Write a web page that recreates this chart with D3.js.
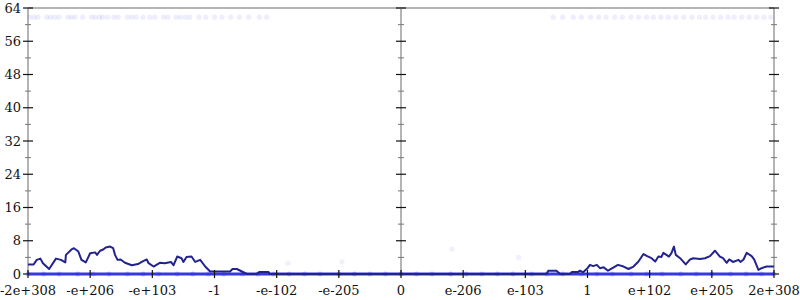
<!DOCTYPE html>
<html lang="en">
<head>
  <meta charset="UTF-8">
  <title>Distribution over doubles</title>
  <script src="https://d3js.org/d3.v7.min.js"></script>
  <style>
    body { margin: 0; background: #fff; }
    svg text { font-family: "DejaVu Serif", serif; font-size: 13px; fill: #111; }
    .frame { stroke: #b4b4b4; stroke-width: 2; fill: none; }
  </style>
</head>
<body>
  <svg width="800" height="300"></svg>
  <script>
    // x positions are in "tick units": -6 .. 6, one unit per labelled tick
    const xTickPos = [-6, -5, -4, -3, -2, -1, 0, 1, 2, 3, 4, 5, 6];
    const xTickLabels = ["-2e+308", "-e+206", "-e+103", "-1", "-e-102", "-e-205", "0",
                         "e-206", "e-103", "1", "e+102", "e+205", "2e+308"];
    const yMajor = [0, 8, 16, 24, 32, 40, 48, 56, 64];
    const yMinor = [4, 12, 20, 28, 36, 44, 52, 60];

    // the dark line
    const lineX = [-6.00, -5.91, -5.86, -5.80, -5.76, -5.66, -5.55, -5.47, -5.40, -5.39, -5.30, -5.26,
                   -5.19, -5.14, -5.07, -5.00, -4.92, -4.89, -4.84, -4.79, -4.75, -4.68, -4.63, -4.60,
                   -4.56, -4.51, -4.44, -4.33, -4.23, -4.17, -4.09, -4.06, -3.98, -3.88, -3.80, -3.70,
                   -3.66, -3.60, -3.53, -3.50, -3.45, -3.37, -3.31, -3.23, -3.15, -3.07, -3.01, -2.75,
                   -2.71, -2.64, -2.56, -2.48, -2.32, -2.28, -2.13, -2.11,
                   2.34, 2.37, 2.50, 2.56, 2.72, 2.75, 2.85, 2.88, 2.93, 3.00, 3.04, 3.09, 3.15, 3.20,
                   3.26, 3.33, 3.40, 3.49, 3.58, 3.66, 3.74, 3.82, 3.90, 3.96, 4.03, 4.09, 4.14, 4.19,
                   4.22, 4.27, 4.31, 4.35, 4.39, 4.42, 4.49, 4.58, 4.65, 4.70, 4.81, 4.89, 4.97, 5.05,
                   5.13, 5.18, 5.24, 5.28, 5.34, 5.43, 5.46, 5.51, 5.56, 5.64, 5.68, 5.75, 5.80, 5.88, 6.00];
    const lineY = [2.3, 2.3, 3.4, 3.7, 2.6, 1.2, 3.7, 3.4, 2.8, 4.6, 5.9, 6.2,
                   5.4, 3.4, 2.8, 5.0, 5.2, 4.6, 5.6, 5.9, 6.4, 6.6, 6.2, 4.6,
                   3.4, 3.5, 2.7, 2.1, 2.4, 2.9, 3.5, 2.6, 1.8, 2.7, 2.6, 2.9,
                   2.1, 4.2, 3.8, 2.9, 4.1, 4.2, 2.9, 3.4, 1.8, 0.6, 0.6, 0.6,
                   1.2, 1.2, 0.6, 0, 0, 0.5, 0.5, 0,
                   0, 0.8, 0.8, 0, 0, 0.5, 0.5, 0.8, 0.4, 1.4, 2.2, 1.9, 2.2, 1.4,
                   1.6, 0.8, 1.4, 2.2, 1.8, 1.2, 1.8, 3.0, 4.8, 4.3, 3.8, 3.0, 4.2, 4.1,
                   5.1, 4.6, 4.2, 5.0, 6.6, 4.6, 3.8, 2.3, 3.5, 3.8, 3.6, 3.8, 4.3, 5.6,
                   4.2, 3.8, 2.7, 3.5, 2.9, 3.4, 2.9, 3.5, 5.1, 4.3, 3.5, 1.0, 1.4, 1.8, 1.8];

    // sample points sitting on zero (they form the blue band)
    const zeroX = [-6.00, -5.75, -5.50, -5.20, -4.95, -4.70, -4.40, -4.15, -3.90, -3.60, -3.35, -3.10,
                   -2.85, -2.55, -2.30, -2.05, -1.80, -1.55, -1.30, -1.00, -0.75, -0.50, -0.25, 0.00,
                   0.25, 0.50, 0.80, 1.05, 1.30, 1.55, 1.80, 2.10, 2.35, 2.60, 2.90, 3.15, 3.40, 3.70,
                   3.95, 4.20, 4.50, 4.75, 5.00, 5.30, 5.55, 5.80, 6.00];
    // sample points drawn at the top edge
    const topX = [-5.97, -5.90, -5.84, -5.70, -5.64, -5.57, -5.50, -5.36, -5.30, -5.24, -5.12, -4.98,
                  -4.92, -4.85, -4.80, -4.72, -4.62, -4.55, -4.40, -4.33, -4.26, -4.15, -4.04, -3.96,
                  -3.82, -3.75, -3.62, -3.55, -3.47, -3.40, -3.25, -3.14, -3.00, -2.88, -2.74, -2.60,
                  -2.45, -2.28, -2.16,
                  2.45, 2.60, 2.77, 2.90, 3.05, 3.18, 3.30, 3.44, 3.56, 3.70, 3.82, 3.95, 4.06, 4.18,
                  4.30, 4.42, 4.55, 4.68, 4.80, 4.90, 5.02, 5.14, 5.26, 5.36, 5.48, 5.60, 5.72, 5.84, 5.95];
    const topY = 61.8;
    // a few scattered points
    const strayX = [-1.82, -0.95, 0.82, 1.89];
    const strayY = [2.6, 3.0, 6.0, 4.0];

    const svg = d3.select("svg");
    const x = d3.scaleLinear().domain([-6, 6]).range([28, 774]);
    const y = d3.scaleLinear().domain([0, 64]).range([274, 8]);

    // frame: top edge, left, centre and right vertical axes
    svg.append("line").attr("class", "frame")
      .attr("x1", x(-6)).attr("x2", x(6)).attr("y1", y(64)).attr("y2", y(64));
    [-6, 0, 6].forEach(v => {
      svg.append("line").attr("class", "frame")
        .attr("x1", x(v)).attr("x2", x(v)).attr("y1", y(64)).attr("y2", y(0));
    });

    // y ticks on each vertical axis, crossing the line
    [-6, 0, 6].forEach(v => {
      const g = svg.append("g");
      yMajor.forEach(t => g.append("line")
        .attr("x1", x(v) - 5).attr("x2", x(v) + 5).attr("y1", y(t)).attr("y2", y(t))
        .attr("stroke", "#111").attr("stroke-width", 1.2));
      yMinor.forEach(t => g.append("line")
        .attr("x1", x(v) - 3).attr("x2", x(v) + 3).attr("y1", y(t)).attr("y2", y(t))
        .attr("stroke", "#777").attr("stroke-width", 1));
    });

    // y labels
    svg.append("g")
      .attr("transform", `translate(${x(-6) - 5},0)`)
      .call(d3.axisLeft(y).tickValues(yMajor).tickSize(0).tickPadding(2))
      .call(g => g.select(".domain").remove())
      .selectAll("text").style("font-family", "DejaVu Serif").style("font-size", "13px").attr("fill", "#111");

    // zero band
    const zeroPts = zeroX.map(v => [v, 0]);
    svg.append("path")
      .attr("d", d3.line().x(d => x(d[0])).y(d => y(d[1]))(zeroPts))
      .attr("fill", "none").attr("stroke", "#3838de").attr("stroke-width", 3);
    svg.selectAll(".zp").data(zeroPts).enter().append("circle")
      .attr("cx", d => x(d[0])).attr("cy", d => y(d[1])).attr("r", 2.5)
      .attr("fill", "#3030e0").attr("opacity", 0.25);

    // top points
    svg.selectAll(".tp").data(topX).enter().append("circle")
      .attr("cx", d => x(d)).attr("cy", y(topY)).attr("r", 2.6)
      .attr("fill", "#4040f0").attr("opacity", 0.09);

    // scattered points
    svg.selectAll(".sp").data(strayX).enter().append("circle")
      .attr("cx", d => x(d)).attr("cy", (d, i) => y(strayY[i])).attr("r", 2.6)
      .attr("fill", "#4040f0").attr("opacity", 0.08);

    // dark line
    const linePts = lineX.map((v, i) => [v, lineY[i]]);
    svg.append("path")
      .attr("d", d3.line().x(d => x(d[0])).y(d => y(d[1]))(linePts))
      .attr("fill", "none").attr("stroke", "#23238e").attr("stroke-width", 2)
      .attr("stroke-linejoin", "round");

    // x ticks and labels
    const xAxis = svg.append("g");
    xTickPos.forEach((v, i) => {
      xAxis.append("line")
        .attr("x1", x(v)).attr("x2", x(v)).attr("y1", y(0) - 4).attr("y2", y(0) + 4)
        .attr("stroke", "#111").attr("stroke-width", 1.2);
      xAxis.append("text")
        .attr("x", x(v)).attr("y", 295)
        .attr("text-anchor", "middle")
        .text(xTickLabels[i]);
    });
  </script>
</body>
</html>
